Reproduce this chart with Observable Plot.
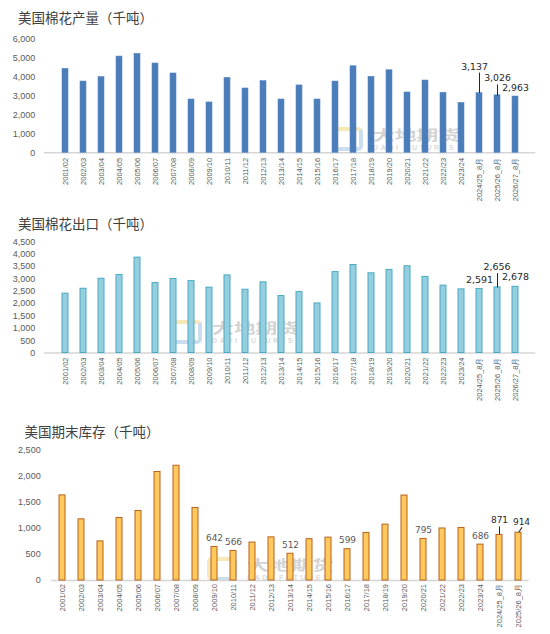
<!DOCTYPE html>
<html>
<head>
<meta charset="utf-8">
<script src="https://cdn.jsdelivr.net/npm/d3@7"></script>
<script src="https://cdn.jsdelivr.net/npm/@observablehq/plot@0.6"></script>
<style>
html, body { margin: 0; padding: 0; background: #fff; }
#root { position: relative; width: 550px; height: 634px; overflow: hidden; font-family: "Liberation Sans", Arial, sans-serif; }
.title { position: absolute; font-family: "Noto Sans CJK SC", sans-serif; font-size: 13.5px; line-height: 16px; color: #404040; white-space: nowrap; }
.panel { position: absolute; left: 0; }
.wm { position: absolute; pointer-events: none; }
.wm .logo { position: absolute; left: 0; top: 0; width: 22px; height: 16px; border: 4px solid; border-color: #F6DFA0 #BCD2EA #BCD2EA #F6DFA0; border-radius: 5px; opacity: 0.75; }
.wm .cn { position: absolute; left: 40px; top: 0px; font-family: "Noto Sans CJK SC", sans-serif; font-weight: bold; font-size: 14px; line-height: 15px; color: #C9C9C9; transform: scaleX(1.55); transform-origin: left top; white-space: nowrap; opacity: 0.8; }
.wm .en { position: absolute; left: 40px; top: 17px; font-family: "Liberation Sans", Arial, sans-serif; font-weight: bold; font-size: 7px; line-height: 7px; letter-spacing: 2.6px; color: #D2D2D2; white-space: nowrap; opacity: 0.8; }
</style>
</head>
<body>
<div id="root"></div>
<script>
// ---------------- data ----------------
const seasons = ["2001/02","2002/03","2003/04","2004/05","2005/06","2006/07","2007/08","2008/09","2009/10","2010/11",
  "2011/12","2012/13","2013/14","2014/15","2015/16","2016/17","2017/18","2018/19","2019/20","2020/21",
  "2021/22","2022/23","2023/24","2024/25_8月","2025/26_8月","2026/27_8月"];
const production = [4420, 3750, 3980, 5065, 5210, 4700, 4175, 2805, 2650, 3945,
  3385, 3770, 2805, 3545, 2805, 3750, 4555, 4000, 4345, 3175,
  3805, 3160, 2630, 3137, 3026, 2963];
const exportsUS = [2400, 2600, 3005, 3155, 3860, 2830, 2995, 2910, 2645, 3140,
  2560, 2860, 2305, 2465, 2005, 3275, 3560, 3225, 3360, 3510,
  3075, 2725, 2575, 2591, 2656, 2678];
const stockSeasons = seasons.slice(0, 25);
const endingStocks = [1628, 1170, 748, 1195, 1330, 2075, 2195, 1388, 642, 566,
  726, 825, 512, 790, 820, 599, 910, 1069, 1625, 795,
  995, 1005, 686, 871, 914];
const prodTicks = [0, 1000, 2000, 3000, 4000, 5000, 6000];
const exportTicks = [0, 500, 1000, 1500, 2000, 2500, 3000, 3500, 4000, 4500];
const stockTicks = [0, 500, 1000, 1500, 2000, 2500];
const titles = ["美国棉花产量（千吨）", "美国棉花出口（千吨）", "美国期末库存（千吨）"];
const prodLabeled = ["2024/25_8月", "2025/26_8月", "2026/27_8月"];
const exportLabeled = ["2024/25_8月", "2025/26_8月", "2026/27_8月"];
const stockLabeledGray = ["2009/10", "2010/11", "2013/14", "2016/17", "2020/21", "2023/24"];
const stockLabeledDark = ["2024/25_8月", "2025/26_8月"];

// ---------------- helpers ----------------
const fmt = d3.format(",");
const root = document.getElementById("root");
const prodData = seasons.map((s, i) => ({season: s, value: production[i]}));
const expData = seasons.map((s, i) => ({season: s, value: exportsUS[i]}));
const stockData = stockSeasons.map((s, i) => ({season: s, value: endingStocks[i]}));
const pick = (data, s) => data.filter(d => d.season === s);

// annotation layout (label offsets / leader lines), separate from data
const prodNotes = [
  {season: prodLabeled[0], dx: -5, dy: -26, lead: 19.5, gap: 0.7},
  {season: prodLabeled[1], dx: 0, dy: -17.5, lead: 10.5, gap: 0},
  {season: prodLabeled[2], dx: 0, dy: -8.5}
];
const expNotes = [
  {season: exportLabeled[0], dx: 0, dy: -9.5},
  {season: exportLabeled[1], dx: -0.5, dy: -20.5, lead: 13.5, gap: 0.3},
  {season: exportLabeled[2], dx: 0, dy: -10}
];
const stockNotes = [
  ...stockLabeledGray.map(s => ({season: s, dx: 0, dy: -9, color: "#595959"})),
  {season: stockLabeledDark[0], dx: 0, dy: -14.5, lead: 7, gap: 1.2, color: "#1f1f1f"},
  {season: stockLabeledDark[1], dx: 3, dy: -10.5, lead: 5, gap: 1, ldx: 0.5, rot: 35, color: "#1f1f1f"}
];

const lineShape = {draw(context, l) { context.moveTo(0, 0); context.lineTo(0, -l); }};

function addTitle(text, left, top) {
  const d = document.createElement("div");
  d.className = "title";
  d.style.left = left + "px";
  d.style.top = top + "px";
  d.textContent = text;
  root.appendChild(d);
}
function addWatermark(left, top) {
  const w = document.createElement("div");
  w.className = "wm";
  w.style.left = left + "px";
  w.style.top = top + "px";
  w.innerHTML = '<div class="logo"></div><div class="cn">大地期货</div><div class="en">DADI FUTURES</div>';
  root.appendChild(w);
}

function panel(cfg) {
  const marks = [
    Plot.axisY({ticks: cfg.ticks, tickFormat: fmt, tickSize: 0, tickPadding: cfg.tickPad, fontSize: 9, color: "#595959", label: null}),
    Plot.ruleY([0], {stroke: "#D6D6D6", strokeWidth: 1.5}),
    Plot.barY(cfg.data, {x: "season", y: "value", fill: cfg.fill, stroke: cfg.stroke, strokeWidth: cfg.sw}),
    Plot.axisX({tickRotate: -90, tickSize: 0, tickPadding: cfg.xPad, fontSize: 7.5, color: "#595959", label: null})
  ];
  for (const n of cfg.notes) {
    const rec = pick(cfg.data, n.season);
    marks.push(Plot.text(rec, {x: "season", y: "value", text: d => fmt(d.value), dx: n.dx, dy: n.dy,
      lineAnchor: "middle", textAnchor: "middle", fontSize: cfg.labelSize, fill: n.color || "#262626",
      fontFamily: "DejaVu Sans, sans-serif"}));
    if (n.lead) {
      marks.push(Plot.vector(rec, {x: "season", y: "value", length: () => n.lead, rotate: n.rot || 0,
        anchor: "start", shape: lineShape, dx: n.ldx || 0, dy: -n.gap,
        stroke: "#262626", strokeWidth: 1}));
    }
  }
  const svg = Plot.plot({
    width: 550, height: cfg.height,
    marginTop: cfg.mt, marginBottom: cfg.mb, marginLeft: cfg.ml, marginRight: cfg.mr,
    style: {background: "transparent", fontFamily: "Liberation Sans, Arial, sans-serif", overflow: "visible"},
    x: {type: "band", domain: cfg.domain, paddingInner: cfg.pad, paddingOuter: cfg.pad / 2, axis: null},
    y: {domain: cfg.yDomain, axis: null},
    length: {type: "identity"},
    marks
  });
  const holder = document.createElement("div");
  holder.className = "panel";
  holder.style.top = cfg.top + "px";
  holder.appendChild(svg);
  root.appendChild(holder);
}

// watermarks (behind the charts)
addWatermark(333, 127);
addWatermark(172, 320);
addWatermark(207, 557);

// titles
addTitle(titles[0], 18, 8.7);
addTitle(titles[1], 18, 214.7);
addTitle(titles[2], 24.5, 423);

panel({data: prodData, domain: seasons, yDomain: [0, 6000], ticks: prodTicks,
  top: 25, height: 190, mt: 13.3, mb: 62.7, ml: 43.85, mr: 14.7, tickPad: 9, xPad: 5,
  fill: "#4A7DBA", stroke: "#5D8BC4", sw: 0.6, pad: 0.68, labelSize: 9.3, notes: prodNotes});

panel({data: expData, domain: seasons, yDomain: [0, 4500], ticks: exportTicks,
  top: 232, height: 180, mt: 9.3, mb: 59.5, ml: 43.85, mr: 14.7, tickPad: 9, xPad: 4.5,
  fill: "#95CEDE", stroke: "#4AAAC4", sw: 1, pad: 0.67, labelSize: 9.5, notes: expNotes});

panel({data: stockData, domain: stockSeasons, yDomain: [0, 2500], ticks: stockTicks,
  top: 440, height: 194, mt: 9.3, mb: 54, ml: 51.15, mr: 21.3, tickPad: 11, xPad: 3.5,
  fill: "#FFC95E", stroke: "#B8621B", sw: 1, pad: 0.66, labelSize: 9, notes: stockNotes});
</script>
</body>
</html>
